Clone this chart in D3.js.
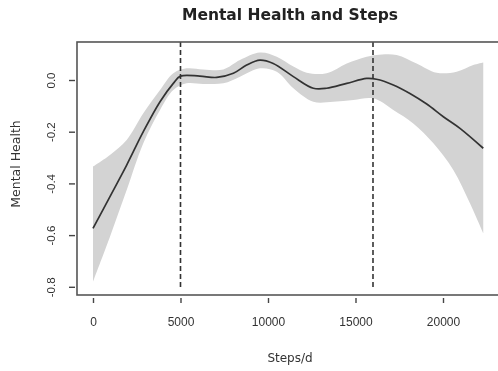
<!DOCTYPE html>
<html>
<head>
<meta charset="utf-8">
<script src="https://d3js.org/d3.v7.min.js"></script>
<style>
  body { margin: 0; background: #fff; }
  svg { display: block; font-family: "DejaVu Sans", "Liberation Sans", sans-serif; }
</style>
</head>
<body>
<div id="chart"></div>
<script>
// fitted curve (steps/d, mental health)
var fitSteps = [0, 970, 1925, 2875, 3830, 4590, 5000, 6100, 7070, 8020, 8780, 9540, 10300, 11450, 12590, 13350, 14500, 15640, 16200, 17160, 18110, 19070, 20020, 20970, 22300];
var fitValues = [-0.574, -0.451, -0.329, -0.2, -0.084, -0.013, 0.015, 0.015, 0.01, 0.026, 0.058, 0.077, 0.064, 0.013, -0.032, -0.032, -0.013, 0.006, 0.003, -0.019, -0.052, -0.093, -0.142, -0.187, -0.264];

// confidence band
var upperSteps = [0, 970, 1925, 2875, 3830, 4590, 5340, 6290, 7450, 8400, 9540, 10500, 11450, 12210, 13350, 14500, 15640, 16200, 17350, 18490, 19640, 20780, 21730, 22300];
var upperValues = [-0.335, -0.29, -0.232, -0.129, -0.039, 0.026, 0.045, 0.041, 0.041, 0.077, 0.106, 0.09, 0.052, 0.028, 0.026, 0.064, 0.09, 0.097, 0.097, 0.064, 0.028, 0.032, 0.058, 0.068];
var lowerSteps = [0, 970, 1925, 2875, 3830, 4590, 5340, 6290, 7450, 8400, 9540, 10500, 11450, 12590, 13730, 14880, 16020, 17160, 18300, 19450, 20590, 21540, 22300];
var lowerValues = [-0.78, -0.606, -0.426, -0.245, -0.116, -0.039, -0.013, -0.015, -0.013, 0.013, 0.045, 0.032, -0.032, -0.084, -0.084, -0.077, -0.071, -0.116, -0.168, -0.245, -0.348, -0.477, -0.593];

var cutPoints = [5000, 16000];
var xTicks = [0, 5000, 10000, 15000, 20000];
var yTicks = [0, -0.2, -0.4, -0.6, -0.8];

var width = 498, height = 371;
var box = { left: 77, right: 499, top: 42, bottom: 295 };

var svg = d3.select("#chart").append("svg")
  .attr("width", width)
  .attr("height", height);

// slight softening, the source picture is a blurry scan
svg.append("defs").append("filter")
  .attr("id", "soft")
  .append("feGaussianBlur")
  .attr("stdDeviation", 0.45);

var root = svg.append("g").attr("filter", "url(#soft)");

var x = d3.scaleLinear().domain([-914, 23200]).range([box.left, box.right]);
var y = d3.scaleLinear().domain([-0.8317, 0.147]).range([box.bottom, box.top]);

var fit = fitSteps.map(function(s, i) { return { s: s, v: fitValues[i] }; });
var upper = upperSteps.map(function(s, i) { return { s: s, v: upperValues[i] }; });
var lower = lowerSteps.map(function(s, i) { return { s: s, v: lowerValues[i] }; });

var line = d3.line()
  .curve(d3.curveCatmullRom)
  .x(function(d) { return x(d.s); })
  .y(function(d) { return y(d.v); });

// band: upper left->right, then lower right->left
var bandPath = line(upper) + "L" + line(lower.slice().reverse()).slice(1) + "Z";
root.append("path")
  .attr("d", bandPath)
  .attr("fill", "#d3d3d3")
  .attr("stroke", "none");

root.append("path")
  .attr("d", line(fit))
  .attr("fill", "none")
  .attr("stroke", "#333")
  .attr("stroke-width", 1.7);

root.selectAll("line.cut")
  .data(cutPoints).enter()
  .append("line")
  .attr("class", "cut")
  .attr("x1", function(d) { return x(d); })
  .attr("x2", function(d) { return x(d); })
  .attr("y1", box.top)
  .attr("y2", box.bottom - 8)
  .attr("stroke", "#333")
  .attr("stroke-width", 1.6)
  .attr("stroke-dasharray", "5,3");

// plot frame
root.append("rect")
  .attr("x", box.left)
  .attr("y", box.top)
  .attr("width", box.right - box.left)
  .attr("height", box.bottom - box.top)
  .attr("fill", "none")
  .attr("stroke", "#555")
  .attr("stroke-width", 1.6);

// axes
var xAxis = root.append("g")
  .attr("transform", "translate(0," + (box.bottom + 3) + ")")
  .call(d3.axisBottom(x).tickValues(xTicks).tickSize(5).tickSizeOuter(0).tickPadding(14)
    .tickFormat(function(d) { return d; }));
xAxis.select(".domain").remove();
xAxis.selectAll("line").attr("stroke", "#444").attr("stroke-width", 1.4);
xAxis.selectAll("text")
  .attr("font-size", 12)
  .attr("fill", "#333");

var yAxis = root.append("g")
  .attr("transform", "translate(" + (box.left - 2) + ",0)")
  .call(d3.axisLeft(y).tickValues(yTicks).tickSize(6).tickSizeOuter(0).tickPadding(0)
    .tickFormat(function(d) { return d.toFixed(1).replace("\u2212", "-"); }));
yAxis.select(".domain").remove();
yAxis.selectAll("line").attr("stroke", "#444").attr("stroke-width", 1.4);
yAxis.selectAll("text")
  .attr("font-size", 11.5)
  .attr("fill", "#333")
  .attr("text-anchor", "middle")
  .attr("dy", null)
  .attr("transform", "translate(-20,0) rotate(-90)")
  .attr("x", 0)
  .attr("y", 0);

// titles
root.append("text")
  .attr("x", 290)
  .attr("y", 20)
  .attr("text-anchor", "middle")
  .attr("font-size", 15.5)
  .attr("font-weight", "bold")
  .attr("fill", "#222")
  .text("Mental Health and Steps");

root.append("text")
  .attr("x", 290)
  .attr("y", 362)
  .attr("text-anchor", "middle")
  .attr("font-size", 12)
  .attr("fill", "#333")
  .text("Steps/d");

root.append("text")
  .attr("transform", "translate(20,164) rotate(-90)")
  .attr("text-anchor", "middle")
  .attr("font-size", 12.5)
  .attr("fill", "#333")
  .text("Mental Health");
</script>
</body>
</html>
